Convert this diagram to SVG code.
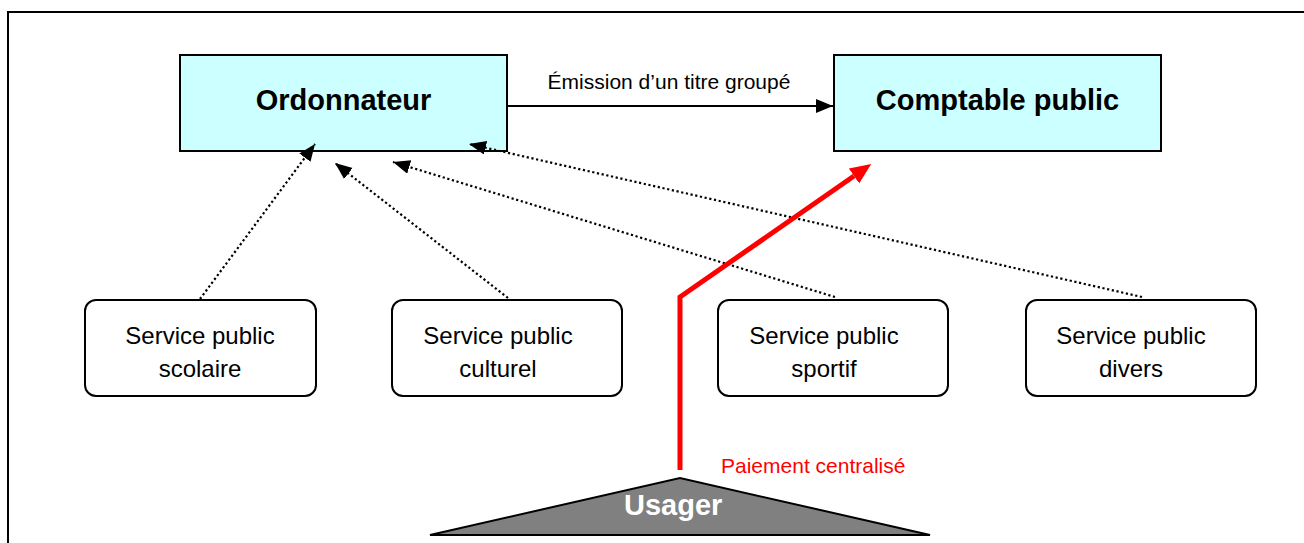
<svg xmlns="http://www.w3.org/2000/svg" width="1304" height="543" viewBox="0 0 1304 543">
<style>
text{font-family:"Liberation Sans",Arial,sans-serif;fill:#000}
.main{fill:#ccffff;stroke:#000;stroke-width:2}
.svc{fill:#fff;stroke:#000;stroke-width:2}
.bold{font-weight:bold;font-size:29px}
.svct{font-size:24px}
.dot{fill:none;stroke:#000;stroke-width:2.2;stroke-dasharray:2.2 2.6}
</style>
<defs>
<marker id="ah" markerUnits="userSpaceOnUse" markerWidth="18" markerHeight="15" refX="17" refY="7" orient="auto"><path d="M0,0 L17,7 L0,14 z" fill="#000"/></marker>
<marker id="ahr" markerUnits="userSpaceOnUse" markerWidth="22" markerHeight="20" refX="0" refY="9" orient="auto"><path d="M0,0 L21,9 L0,18 z" fill="#ff0000"/></marker>
</defs>
<rect width="1304" height="543" fill="#fff"/>
<path d="M8,543 V12 H1304" fill="none" stroke="#000" stroke-width="2"/>
<g id="ordonnateur">
<rect class="main" x="180" y="55" width="327" height="96"/>
<text class="bold" x="343.5" y="110" text-anchor="middle">Ordonnateur</text>
</g>
<g id="comptable">
<rect class="main" x="834" y="55" width="327" height="96"/>
<text class="bold" x="997.5" y="110" text-anchor="middle">Comptable public</text>
</g>
<g id="scolaire">
<rect class="svc" x="85" y="300" width="231" height="96" rx="11"/>
<text class="svct" x="200" y="344" text-anchor="middle">Service public</text>
<text class="svct" x="200" y="377" text-anchor="middle">scolaire</text>
</g>
<g id="culturel">
<rect class="svc" x="392" y="300" width="230" height="96" rx="11"/>
<text class="svct" x="498" y="344" text-anchor="middle">Service public</text>
<text class="svct" x="498" y="377" text-anchor="middle">culturel</text>
</g>
<g id="sportif">
<rect class="svc" x="718" y="300" width="230" height="96" rx="11"/>
<text class="svct" x="824" y="344" text-anchor="middle">Service public</text>
<text class="svct" x="824" y="377" text-anchor="middle">sportif</text>
</g>
<g id="divers">
<rect class="svc" x="1026" y="300" width="230" height="96" rx="11"/>
<text class="svct" x="1131" y="344" text-anchor="middle">Service public</text>
<text class="svct" x="1131" y="377" text-anchor="middle">divers</text>
</g>
<g id="usager">
<polygon points="430,535 680,478 930,535" fill="#808080" stroke="#000" stroke-width="2"/>
<text x="624" y="515" class="bold" style="fill:#fff">Usager</text>
</g>
<g id="connectors">
<line x1="507" y1="106" x2="833" y2="106" stroke="#000" stroke-width="2" marker-end="url(#ah)"/>
<line class="dot" x1="200" y1="299" x2="315" y2="144" marker-end="url(#ah)"/>
<line class="dot" x1="508" y1="298" x2="335" y2="163" marker-end="url(#ah)"/>
<line class="dot" x1="835" y1="297" x2="393" y2="162" marker-end="url(#ah)"/>
<line class="dot" x1="1142" y1="297" x2="469" y2="144" marker-end="url(#ah)"/>
<polyline points="680,470 680,297 854,176" fill="none" stroke="#ff0000" stroke-width="5" marker-end="url(#ahr)"/>
<text x="669" y="89" font-size="21" text-anchor="middle">Émission d’un titre groupé</text>
<text x="721" y="473" font-size="21" style="fill:#ff0000">Paiement centralisé</text>
</g>
</svg>
